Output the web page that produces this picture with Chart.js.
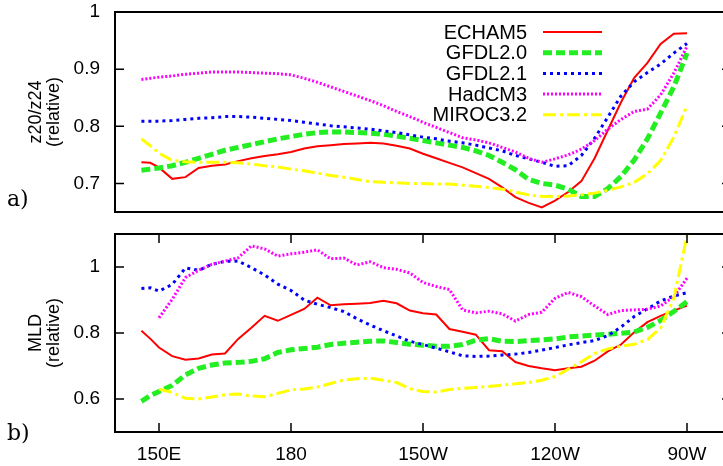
<!DOCTYPE html>
<html>
<head>
<meta charset="utf-8">
<script src="https://cdn.jsdelivr.net/npm/chart.js@4.4.1/dist/chart.umd.min.js"></script>
<style>
  html, body { margin: 0; padding: 0; background: #fff; overflow: hidden; }
  #panels { position: relative; width: 740px; height: 466px; }
  #panels canvas { position: absolute; left: 0; }
  #chartZ { top: 0; }
  #chartM { top: 222px; }
</style>
</head>
<body>
<div id="panels">
  <canvas id="chartZ" width="740" height="222"></canvas>
  <canvas id="chartM" width="740" height="244"></canvas>
</div>
<script>
// longitude along the equator in degrees east (150 = 150E, 270 = 90W)
const lon = [146, 148, 150, 153, 156, 159, 162, 165, 168, 171, 174, 177, 180, 183, 186, 189, 192, 195, 198, 201, 204,
  207, 210, 213, 216, 219, 222, 225, 228, 231, 234, 237, 240, 243, 246, 249, 252, 255, 258, 261, 264, 267, 270];

const models = ['ECHAM5', 'GFDL2.0', 'GFDL2.1', 'HadCM3', 'MIROC3.2'];

// a) z20/z24 (relative)
const echamZ = [0.737, 0.736, 0.728, 0.708, 0.711, 0.727, 0.731, 0.733, 0.739, 0.744, 0.748, 0.751, 0.755, 0.761, 0.765,
  0.767, 0.769, 0.770, 0.771, 0.770, 0.766, 0.761, 0.752, 0.744, 0.736, 0.728, 0.718, 0.708, 0.693, 0.676, 0.666, 0.658,
  0.670, 0.685, 0.704, 0.744, 0.793, 0.842, 0.885, 0.911, 0.944, 0.962, 0.963];
const gfdl20Z = [0.723, 0.725, 0.727, 0.731, 0.737, 0.744, 0.751, 0.758, 0.763, 0.768, 0.773, 0.778, 0.782, 0.786, 0.789,
  0.790, 0.790, 0.789, 0.788, 0.786, 0.783, 0.779, 0.775, 0.771, 0.767, 0.763, 0.757, 0.749, 0.737, 0.724, 0.707, 0.700,
  0.697, 0.690, 0.677, 0.677, 0.691, 0.712, 0.741, 0.778, 0.823, 0.869, 0.928];
const gfdl21Z = [0.809, 0.809, 0.809, 0.810, 0.812, 0.814, 0.815, 0.817, 0.817, 0.816, 0.814, 0.812, 0.810, 0.807, 0.804,
  0.801, 0.799, 0.797, 0.795, 0.792, 0.789, 0.785, 0.781, 0.778, 0.774, 0.771, 0.767, 0.762, 0.757, 0.749, 0.743, 0.737,
  0.730, 0.731, 0.749, 0.779, 0.816, 0.853, 0.878, 0.894, 0.909, 0.928, 0.945];
const hadcmZ = [0.882, 0.884, 0.886, 0.888, 0.891, 0.893, 0.895, 0.895, 0.895, 0.894, 0.893, 0.892, 0.890, 0.884, 0.877,
  0.869, 0.861, 0.853, 0.845, 0.836, 0.826, 0.817, 0.807, 0.798, 0.789, 0.780, 0.776, 0.771, 0.763, 0.755, 0.744, 0.737,
  0.743, 0.750, 0.760, 0.775, 0.795, 0.812, 0.826, 0.830, 0.855, 0.893, 0.940];
const mirocZ = [0.778, 0.766, 0.753, 0.740, 0.738, 0.737, 0.737, 0.737, 0.736, 0.734, 0.731, 0.729, 0.725, 0.722, 0.718,
  0.714, 0.711, 0.707, 0.703, 0.702, 0.701, 0.700, 0.700, 0.699, 0.699, 0.697, 0.695, 0.693, 0.690, 0.685, 0.680, 0.677,
  0.677, 0.678, 0.680, 0.683, 0.688, 0.694, 0.702, 0.717, 0.740, 0.781, 0.836];

// b) MLD (relative)
const echamM = [0.807, 0.783, 0.756, 0.730, 0.719, 0.723, 0.735, 0.738, 0.782, 0.816, 0.852, 0.837, 0.855, 0.873, 0.907,
  0.884, 0.887, 0.889, 0.891, 0.898, 0.890, 0.868, 0.860, 0.856, 0.812, 0.804, 0.795, 0.748, 0.745, 0.712, 0.700, 0.693,
  0.687, 0.693, 0.698, 0.716, 0.744, 0.765, 0.802, 0.833, 0.852, 0.868, 0.883];
const gfdl20M = [0.593, 0.610, 0.623, 0.641, 0.673, 0.693, 0.703, 0.709, 0.711, 0.714, 0.722, 0.741, 0.749, 0.753, 0.757,
  0.765, 0.769, 0.772, 0.775, 0.776, 0.771, 0.766, 0.763, 0.760, 0.760, 0.765, 0.778, 0.783, 0.775, 0.774, 0.777, 0.779,
  0.782, 0.788, 0.791, 0.794, 0.796, 0.799, 0.803, 0.817, 0.838, 0.865, 0.895];
const gfdl21M = [0.935, 0.937, 0.927, 0.947, 0.997, 0.990, 1.008, 1.017, 1.018, 0.998, 0.976, 0.948, 0.929, 0.900, 0.887,
  0.877, 0.865, 0.843, 0.824, 0.807, 0.791, 0.775, 0.765, 0.754, 0.743, 0.731, 0.729, 0.730, 0.733, 0.736, 0.741, 0.748,
  0.756, 0.764, 0.771, 0.777, 0.792, 0.818, 0.850, 0.873, 0.897, 0.912, 0.922];
const hadcmM = [null, null, 0.846, 0.902, 0.968, 0.990, 1.008, 1.018, 1.028, 1.064, 1.055, 1.033, 1.040, 1.045, 1.052,
  1.025, 1.027, 1.006, 1.016, 0.998, 0.993, 0.982, 0.953, 0.941, 0.932, 0.870, 0.861, 0.866, 0.858, 0.836, 0.856, 0.863,
  0.905, 0.923, 0.910, 0.882, 0.856, 0.868, 0.870, 0.872, 0.882, 0.910, 0.966];
const mirocM = [null, null, 0.630, 0.620, 0.602, 0.600, 0.606, 0.613, 0.615, 0.609, 0.607, 0.617, 0.628, 0.630, 0.636,
  0.647, 0.658, 0.661, 0.663, 0.657, 0.650, 0.631, 0.623, 0.621, 0.629, 0.632, 0.635, 0.638, 0.642, 0.646, 0.650, 0.657,
  0.668, 0.690, 0.713, 0.738, 0.752, 0.760, 0.766, 0.780, 0.815, 0.905, 1.095];

const zTicks = [0.7, 0.8, 0.9, 1];
const mTicks = [0.6, 0.8, 1];
const lonTicks = [150, 180, 210, 240, 270];
const lonLabels = ['150E', '180', '150W', '120W', '90W'];

// gnuplot-like line types, one per model
const lineTypes = [
  { color: '#ff0000', width: 2, dash: [] },
  { color: '#22ee22', width: 5, dash: [9, 4] },
  { color: '#0000ff', width: 3, dash: [3, 4] },
  { color: '#ff00ff', width: 3, dash: [2, 2] },
  { color: '#ffff00', width: 3, dash: [13, 4, 3, 4] }
];

Chart.defaults.font.family = '"Liberation Sans", Arial, sans-serif';
Chart.defaults.color = '#000';

function makeDatasets(series) {
  return series.map((vals, i) => ({
    label: models[i],
    data: lon.map((x, j) => ({ x: x, y: vals[j] })),
    borderColor: lineTypes[i].color,
    borderWidth: lineTypes[i].width,
    borderDash: lineTypes[i].dash,
    borderCapStyle: 'butt',
    pointRadius: 0,
    tension: 0,
    fill: false,
    order: series.length - i   // last model ends up on top
  }));
}

// fixed axis sizes so both panels line up; drop the label overhang padding
function fixWidth(w) {
  return axis => { axis.width = w; axis.paddingTop = 0; axis.paddingBottom = 0; };
}
function fixHeight(h) {
  return axis => { axis.height = h; axis.paddingLeft = 0; axis.paddingRight = 0; };
}

// box, inward tick marks on every side, rotated y title and panel tag
const panelFrame = {
  id: 'panelFrame',
  afterDraw(chart, args, opts) {
    const { ctx, chartArea: a, scales } = chart;
    ctx.save();
    ctx.strokeStyle = '#000';
    ctx.lineWidth = 1.5;
    ctx.beginPath();
    scales.y.ticks.forEach(t => {
      const y = scales.y.getPixelForValue(t.value);
      ctx.moveTo(a.left, y); ctx.lineTo(a.left + 9, y);
      ctx.moveTo(a.right, y); ctx.lineTo(a.right - 9, y);
    });
    if (opts.xMarks) {
      scales.x.ticks.forEach(t => {
        const x = scales.x.getPixelForValue(t.value);
        ctx.moveTo(x, a.bottom); ctx.lineTo(x, a.bottom - 9);
        ctx.moveTo(x, a.top); ctx.lineTo(x, a.top + 9);
      });
    }
    ctx.stroke();
    ctx.lineWidth = 2;
    ctx.strokeRect(a.left, a.top, a.width, a.height);

    ctx.fillStyle = '#000';
    ctx.font = '18px "Liberation Sans", Arial, sans-serif';
    ctx.textAlign = 'center';
    ctx.textBaseline = 'middle';
    const cy = (a.top + a.bottom) / 2;
    opts.title.forEach((line, i) => {
      ctx.save();
      ctx.translate(opts.titleX[i], cy + opts.titleDy[i]);
      ctx.rotate(-Math.PI / 2);
      ctx.fillText(line, 0, 0);
      ctx.restore();
    });

    ctx.font = '22px "DejaVu Serif", serif';
    ctx.textAlign = 'left';
    ctx.textBaseline = 'alphabetic';
    ctx.fillText(opts.tag, 7, opts.tagY);
    ctx.restore();
  }
};

// key in the upper right: name, then a sample of the line
const modelKey = {
  id: 'modelKey',
  afterDraw(chart, args, opts) {
    if (!opts.show) return;
    const { ctx } = chart;
    ctx.save();
    ctx.font = '20px "Liberation Sans", Arial, sans-serif';
    ctx.fillStyle = '#000';
    ctx.textAlign = 'right';
    ctx.textBaseline = 'middle';
    chart.data.datasets.forEach((ds, i) => {
      const y = opts.top + i * opts.step;
      ctx.fillText(ds.label, opts.textRight, y + 1);
      ctx.strokeStyle = ds.borderColor;
      ctx.lineWidth = ds.borderWidth;
      ctx.setLineDash(ds.borderDash);
      ctx.beginPath();
      ctx.moveTo(opts.lineFrom, y);
      ctx.lineTo(opts.lineTo, y);
      ctx.stroke();
    });
    ctx.restore();
  }
};

function tickLabel(v) {
  return v === 1 ? '1' : v.toFixed(1);
}

// z20/z24 panel
new Chart(document.getElementById('chartZ'), {
  type: 'line',
  data: { datasets: makeDatasets([echamZ, gfdl20Z, gfdl21Z, hadcmZ, mirocZ]) },
  options: {
    responsive: false,
    animation: false,
    layout: { padding: { left: 0, right: 9, top: 12, bottom: 10 } },
    scales: {
      x: { type: 'linear', min: 140, max: 280, display: false },
      y: {
        min: 0.65, max: 1.0,
        afterBuildTicks: axis => { axis.ticks = zTicks.map(v => ({ value: v })); },
        afterFit: fixWidth(115),
        grid: { display: false, drawTicks: false },
        border: { display: false },
        ticks: { padding: 15, font: { size: 19 }, callback: tickLabel }
      }
    },
    plugins: {
      legend: { display: false },
      tooltip: { enabled: false },
      panelFrame: { title: ['z20/z24', '(relative)'], titleX: [36, 54], titleDy: [0, 0], tag: 'a)', tagY: 206 },
      modelKey: { show: true, top: 32, step: 20.7, textRight: 527, lineFrom: 543, lineTo: 602 }
    }
  },
  plugins: [panelFrame, modelKey]
});

// MLD panel
new Chart(document.getElementById('chartM'), {
  type: 'line',
  data: { datasets: makeDatasets([echamM, gfdl20M, gfdl21M, hadcmM, mirocM]) },
  options: {
    responsive: false,
    animation: false,
    layout: { padding: { left: 0, right: 9, top: 12, bottom: 0 } },
    scales: {
      x: {
        type: 'linear', min: 140, max: 280,
        afterBuildTicks: axis => { axis.ticks = lonTicks.map(v => ({ value: v })); },
        afterFit: fixHeight(34),
        grid: { display: false, drawTicks: false },
        border: { display: false },
        ticks: {
          padding: 11, font: { size: 19 }, maxRotation: 0,
          callback: v => lonLabels[lonTicks.indexOf(v)]
        }
      },
      y: {
        min: 0.5, max: 1.1,
        afterBuildTicks: axis => { axis.ticks = mTicks.map(v => ({ value: v })); },
        afterFit: fixWidth(115),
        grid: { display: false, drawTicks: false },
        border: { display: false },
        ticks: { padding: 15, font: { size: 19 }, callback: tickLabel }
      }
    },
    plugins: {
      legend: { display: false },
      tooltip: { enabled: false },
      panelFrame: { title: ['MLD', '(relative)'], titleX: [36, 54], titleDy: [0, 0], tag: 'b)', tagY: 218, xMarks: true },
      modelKey: { show: false }
    }
  },
  plugins: [panelFrame, modelKey]
});
</script>
</body>
</html>
